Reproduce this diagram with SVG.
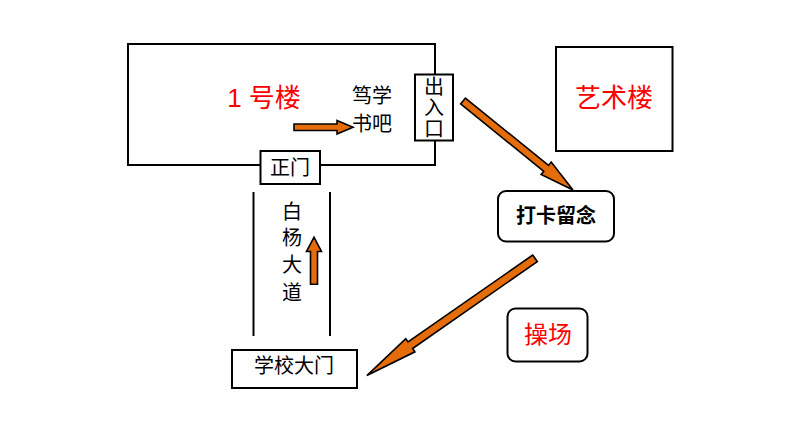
<svg xmlns="http://www.w3.org/2000/svg" width="802" height="441" viewBox="0 0 802 441">
<style>
.box{fill:#fff;stroke:#000;stroke-width:2}
.line{stroke:#000;stroke-width:2;fill:none}
.t{font-family:"Liberation Sans","Noto Sans CJK SC",sans-serif;font-size:20px;fill:#000;text-anchor:middle}
.red{fill:#ff0000}
.b{font-weight:bold}
.arr{fill:#E46C0A;stroke:#000;stroke-width:1.6;stroke-linejoin:miter}
</style>
<rect width="802" height="441" fill="#fff"/>
<g id="building1">
<rect class="box" x="128" y="44" width="307" height="121"/>
<text class="t red" x="264" y="107" font-size="26" style="font-size:26px">1 号楼</text>
</g>
<g id="shuba">
<text class="t" x="372" y="102.5">笃学</text>
<text class="t" x="372" y="131">书吧</text>
</g>
<g id="entrance">
<rect class="box" x="415" y="74.5" width="38" height="66"/>
<text class="t" x="434" y="94">出</text>
<text class="t" x="434" y="115">入</text>
<text class="t" x="434" y="136">口</text>
</g>
<g id="zhengmen">
<rect class="box" x="260.5" y="151" width="59.5" height="33"/>
<text class="t" x="290" y="175">正门</text>
</g>
<g id="road">
<line class="line" x1="253.5" y1="192" x2="253.5" y2="336"/>
<line class="line" x1="330" y1="192" x2="330" y2="336"/>
<text class="t" x="292" y="218.5">白</text>
<text class="t" x="292" y="245">杨</text>
<text class="t" x="292" y="272">大</text>
<text class="t" x="292" y="299.5">道</text>
</g>
<g id="schoolgate">
<rect class="box" x="232" y="350" width="125" height="38"/>
<text class="t" x="294" y="373">学校大门</text>
</g>
<g id="daka">
<rect class="box" x="498" y="191" width="116" height="50.5" rx="8"/>
<text class="t b" x="556" y="223">打卡留念</text>
</g>
<g id="playground">
<rect class="box" x="507.5" y="308.5" width="80" height="53" rx="8"/>
<text class="t red" x="548" y="342.5" style="font-size:24px">操场</text>
</g>
<g id="artbuilding">
<rect class="box" x="556" y="47" width="116.5" height="104"/>
<text class="t red" x="614" y="107" style="font-size:26px">艺术楼</text>
</g>
<g id="connectors">
<polygon class="arr" points="294,124 337,124 337,120.5 353,127.3 337,134 337,130.5 294,130.5"/>
<polygon class="arr" points="310.5,284.3 310.5,251.5 306.5,251.5 314,237.3 321.5,251.5 317.5,251.5 317.5,284.3"/>
<g transform="translate(463,101) rotate(39)">
<polygon class="arr" points="0,-3.8 107,-3.8 107,-8 141.5,0 107,8 107,3.8 0,3.8"/>
</g>
<g transform="translate(535,258.3) rotate(145.1)">
<polygon class="arr" points="0,-4 152,-4 152,-8 205,0 152,8 152,4 0,4"/>
</g>
</g>
</svg>
